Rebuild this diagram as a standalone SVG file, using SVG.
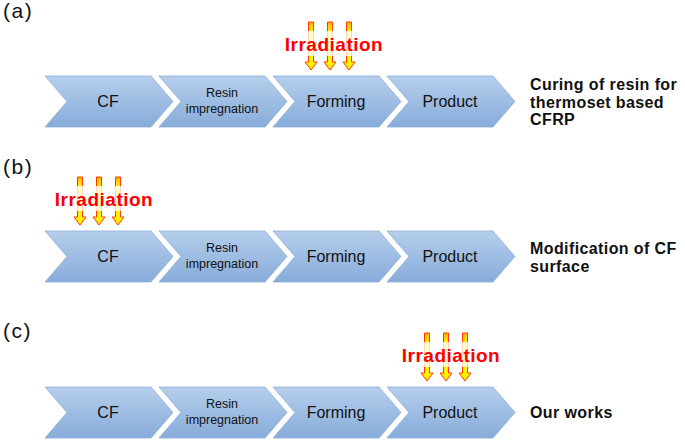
<svg xmlns="http://www.w3.org/2000/svg" xmlns:xlink="http://www.w3.org/1999/xlink" width="685" height="440" viewBox="0 0 685 440">
<style>
.chev{fill:url(#cg);stroke:#8caed8;stroke-width:0.8}
.lbl{font-family:"Liberation Sans",Arial,sans-serif;font-size:16px;fill:#111;text-anchor:middle}
.sm{font-size:12.5px}
.tag{font-family:"Liberation Sans",Arial,sans-serif;font-size:21px;fill:#111;letter-spacing:1.5px}
.side{font-family:"Liberation Sans",Arial,sans-serif;font-size:16px;font-weight:bold;fill:#111;letter-spacing:0.4px}
.irr{font-family:"Liberation Sans",Arial,sans-serif;font-size:19px;font-weight:bold;fill:#ff0000;text-anchor:middle;letter-spacing:0.5px}
.arr{fill:url(#ag);stroke:#ff3a00;stroke-width:1}
.box{fill:#ffffff;opacity:0.78}
</style>
<defs>
<linearGradient id="cg" x1="0" y1="0" x2="0" y2="1">
<stop offset="0" stop-color="#b6ceec"/>
<stop offset="1" stop-color="#87acda"/>
</linearGradient>
<linearGradient id="ag" x1="0" y1="0" x2="0" y2="1">
<stop offset="0" stop-color="#ffb000"/>
<stop offset="0.25" stop-color="#ffff00"/>
<stop offset="1" stop-color="#ffee00"/>
</linearGradient>
<path id="chev" d="M0,0 H106 L128,25.5 L106,51 H0 L22,25.5 Z"/>
<path id="arrow" d="M-2.5,0 H2.5 V40 H6 L0,48 L-6,40 H-2.5 Z"/>
</defs>
<rect width="685" height="440" fill="#ffffff"/>

<!-- Row a -->
<text class="tag" x="3" y="18">(a)</text>
<g id="a-cf"><use xlink:href="#chev" class="chev" x="45" y="76"/><text class="lbl" x="108" y="107">CF</text></g>
<g id="a-resin"><use xlink:href="#chev" class="chev" x="159" y="76"/><text class="lbl sm" x="222" y="97">Resin</text><text class="lbl sm" x="222" y="113">impregnation</text></g>
<g id="a-forming"><use xlink:href="#chev" class="chev" x="273" y="76"/><text class="lbl" x="336" y="107">Forming</text></g>
<g id="a-product"><use xlink:href="#chev" class="chev" x="387" y="76"/><text class="lbl" x="450" y="107">Product</text></g>
<g id="a-irr">
<use xlink:href="#arrow" class="arr" x="311" y="22"/>
<use xlink:href="#arrow" class="arr" x="330" y="22"/>
<use xlink:href="#arrow" class="arr" x="349" y="22"/>
<rect class="box" x="277" y="31" width="116" height="25"/>
<text class="irr" x="334" y="51">Irradiation</text>
</g>
<g id="a-note"><text class="side" x="530" y="90">Curing of resin for</text><text class="side" x="530" y="107.5">thermoset based</text><text class="side" x="530" y="125">CFRP</text></g>

<!-- Row b -->
<text class="tag" x="3" y="174">(b)</text>
<g id="b-cf"><use xlink:href="#chev" class="chev" x="45" y="231"/><text class="lbl" x="108" y="262">CF</text></g>
<g id="b-resin"><use xlink:href="#chev" class="chev" x="159" y="231"/><text class="lbl sm" x="222" y="252">Resin</text><text class="lbl sm" x="222" y="268">impregnation</text></g>
<g id="b-forming"><use xlink:href="#chev" class="chev" x="273" y="231"/><text class="lbl" x="336" y="262">Forming</text></g>
<g id="b-product"><use xlink:href="#chev" class="chev" x="387" y="231"/><text class="lbl" x="450" y="262">Product</text></g>
<g id="b-irr">
<use xlink:href="#arrow" class="arr" x="80" y="177"/>
<use xlink:href="#arrow" class="arr" x="99" y="177"/>
<use xlink:href="#arrow" class="arr" x="118" y="177"/>
<rect class="box" x="46" y="186" width="116" height="25"/>
<text class="irr" x="104" y="206">Irradiation</text>
</g>
<g id="b-note"><text class="side" x="530" y="254">Modification of CF</text><text class="side" x="530" y="272">surface</text></g>

<!-- Row c -->
<text class="tag" x="3" y="338">(c)</text>
<g id="c-cf"><use xlink:href="#chev" class="chev" x="45" y="387"/><text class="lbl" x="108" y="418">CF</text></g>
<g id="c-resin"><use xlink:href="#chev" class="chev" x="159" y="387"/><text class="lbl sm" x="222" y="408">Resin</text><text class="lbl sm" x="222" y="424">impregnation</text></g>
<g id="c-forming"><use xlink:href="#chev" class="chev" x="273" y="387"/><text class="lbl" x="336" y="418">Forming</text></g>
<g id="c-product"><use xlink:href="#chev" class="chev" x="387" y="387"/><text class="lbl" x="450" y="418">Product</text></g>
<g id="c-irr">
<use xlink:href="#arrow" class="arr" x="427" y="333"/>
<use xlink:href="#arrow" class="arr" x="446" y="333"/>
<use xlink:href="#arrow" class="arr" x="465" y="333"/>
<rect class="box" x="393" y="342" width="116" height="25"/>
<text class="irr" x="451" y="362">Irradiation</text>
</g>
<g id="c-note"><text class="side" x="530" y="418">Our works</text></g>
<g id="connectors"></g>
</svg>
